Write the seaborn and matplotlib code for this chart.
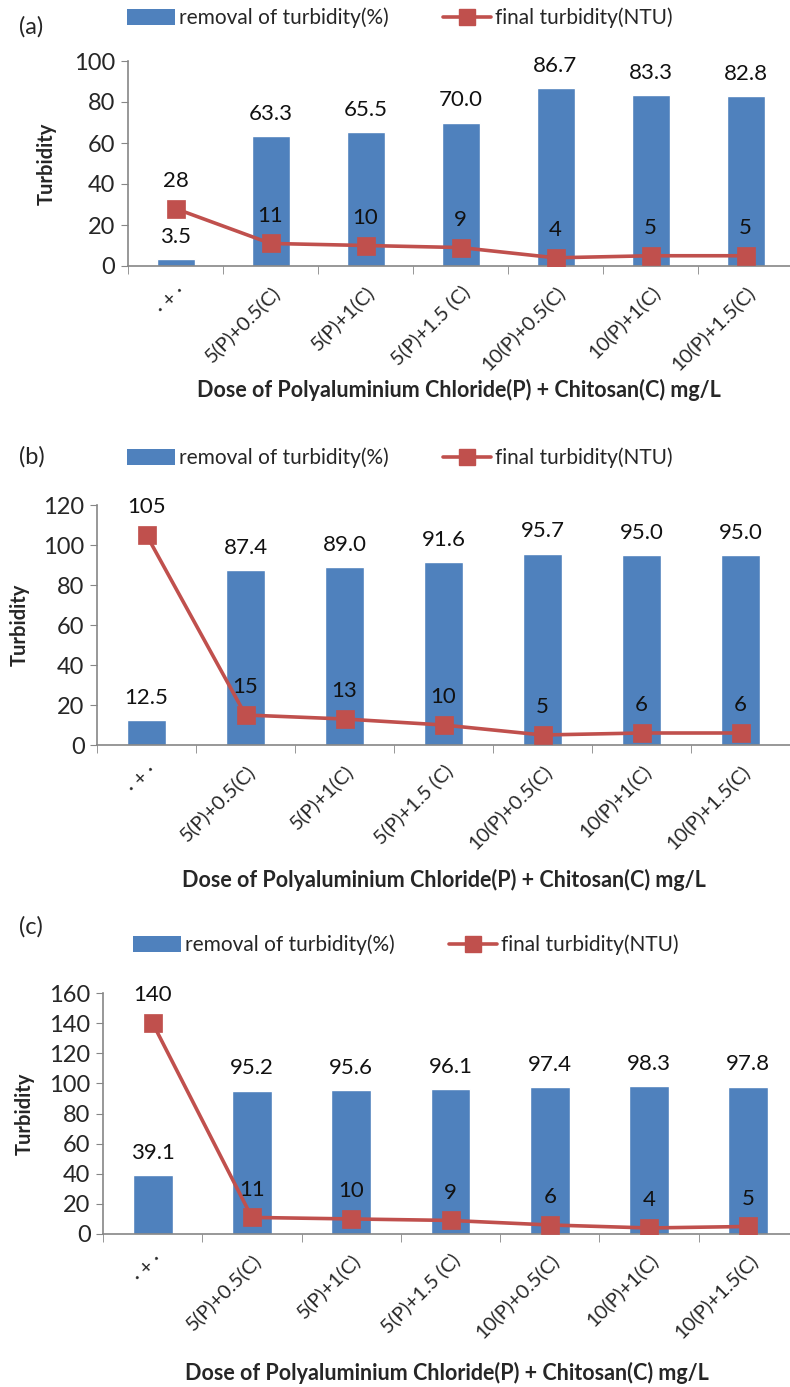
import numpy as np
import matplotlib
matplotlib.use("Agg")
import matplotlib.pyplot as plt
import seaborn as sns
from matplotlib.patches import Patch
from matplotlib.lines import Line2D
from matplotlib.ticker import FixedLocator

# ---- data ----
categories = ["\u00b7 + \u00b7", "5(P)+0.5(C)", "5(P)+1(C)", "5(P)+1.5 (C)",
              "10(P)+0.5(C)", "10(P)+1(C)", "10(P)+1.5(C)"]

removal_a = [3.5, 63.3, 65.5, 70.0, 86.7, 83.3, 82.8]
final_a = [28, 11, 10, 9, 4, 5, 5]

removal_b = [12.5, 87.4, 89.0, 91.6, 95.7, 95.0, 95.0]
final_b = [105, 15, 13, 10, 5, 6, 6]

removal_c = [39.1, 95.2, 95.6, 96.1, 97.4, 98.3, 97.8]
final_c = [140, 11, 10, 9, 6, 4, 5]

ymax = [100, 120, 160]
panel_tags = ["(a)", "(b)", "(c)"]

BLUE = "#4F81BD"
RED = "#C0504D"
GREY = "#868686"

sns.set_style("white")
plt.rcParams["font.family"] = ["Lato", "DejaVu Sans"]

W, H = 790, 1387
fig = plt.figure(figsize=(W / 100, H / 100), dpi=100)

# axes boxes in pixels: left, right, top, bottom
boxes = [(128, 793, 61, 266), (97, 790, 505, 745), (103, 798, 993, 1234)]
legend_y = [18, 458, 945]
legend_x = [400, 400, 406]
tag_y = [27, 457, 927]
xlabel_y = [390, 880, 1373]
ylabel_x = [47, 20, 25]

panels = [(removal_a, final_a), (removal_b, final_b), (removal_c, final_c)]

for i, (removal, final) in enumerate(panels):
    l, r, t, b = boxes[i]
    ax = fig.add_axes([l / W, 1 - b / H, (r - l) / W, (b - t) / H])

    sns.barplot(x=categories, y=removal, color=BLUE, width=0.4,
                saturation=1, ax=ax, zorder=2)
    sns.pointplot(x=categories, y=final, color=RED, markers="s",
                  markersize=11, linewidth=2.6, errorbar=None, ax=ax)
    for coll in ax.collections:
        coll.set_zorder(4)
    for ln in ax.lines:
        ln.set_zorder(4)

    ax.set_xlim(-0.5, len(categories) - 0.5)
    ax.set_ylim(0, ymax[i])
    ax.set_yticks(np.arange(0, ymax[i] + 1, 20))

    # labels on bars and points
    for k, (v, f) in enumerate(zip(removal, final)):
        ax.annotate(f"{v:.1f}", (k, v), xytext=(0, 16), textcoords="offset points",
                    ha="center", va="center", fontsize=16, color="#111111")
        ax.annotate(f"{f}", (k, f), xytext=(0, 20), textcoords="offset points",
                    ha="center", va="center", fontsize=16, color="#111111", zorder=5)

    for s in ["top", "right"]:
        ax.spines[s].set_visible(False)
    for s in ["left", "bottom"]:
        ax.spines[s].set_color(GREY)
        ax.spines[s].set_linewidth(1.2)

    ax.tick_params(axis="y", direction="out", length=5, color=GREY,
                   labelsize=17, pad=4, left=True)
    ax.tick_params(axis="x", which="major", length=0, pad=12)
    ax.xaxis.set_minor_locator(FixedLocator(np.arange(-0.5, len(categories), 1.0)))
    ax.tick_params(axis="x", which="minor", direction="out", length=6,
                   color=GREY, bottom=True)
    ax.set_xticks(range(len(categories)))
    ax.set_xticklabels(categories, rotation=45, ha="right",
                       rotation_mode="anchor", fontsize=14.5)
    ax.set_xlabel("")
    ax.set_ylabel("")
    ax.grid(False)

    fig.text(ylabel_x[i] / W, 1 - ((t + b) / 2) / H, "Turbidity", rotation=90,
             ha="center", va="center", fontsize=14.5, fontweight="bold")
    fig.text(((l + min(r, W)) / 2) / W, 1 - xlabel_y[i] / H,
             "Dose of Polyaluminium Chloride(P) + Chitosan(C) mg/L",
             ha="center", va="center", fontsize=15.5, fontweight="bold")
    fig.text(19 / W, 1 - tag_y[i] / H, panel_tags[i], ha="left", va="center",
             fontsize=17)

    handles = [Patch(facecolor=BLUE, edgecolor="none"),
               Line2D([], [], color=RED, lw=2.6, marker="s", markersize=11)]
    ax.legend(handles, ["removal of turbidity(%)", "final turbidity(NTU)"],
              loc="center", bbox_to_anchor=(legend_x[i] / W, 1 - legend_y[i] / H),
              bbox_transform=fig.transFigure, ncol=2, frameon=False,
              fontsize=15, handlelength=2.3, handleheight=0.8,
              handletextpad=0.2, columnspacing=2.6)

fig.savefig("out.png", dpi=100)
